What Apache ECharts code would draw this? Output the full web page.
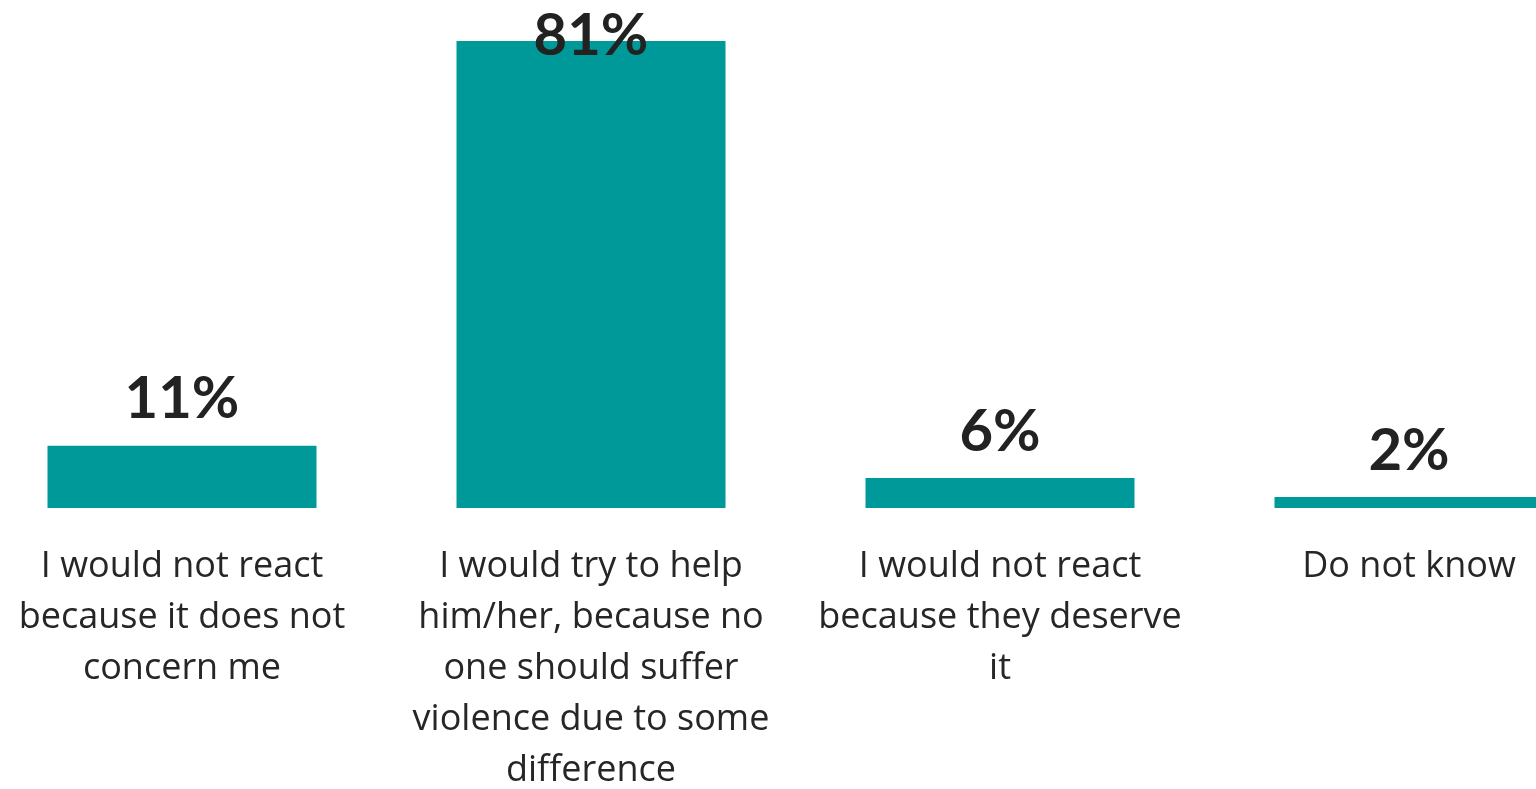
<!DOCTYPE html>
<html>
<head>
<meta charset="utf-8">
<script src="https://cdn.jsdelivr.net/npm/echarts@6/dist/echarts.min.js"></script>
<style>
html,body{margin:0;padding:0;background:#fff;}
#chart{width:1536px;height:789px;}
</style>
</head>
<body>
<div id="chart"></div>
<script>
const categories = [
  "I would not react\nbecause it does not\nconcern me",
  "I would try to help\nhim/her, because no\none should suffer\nviolence due to some\ndifference",
  "I would not react\nbecause they deserve\nit",
  "Do not know"
];
const values = [10.8, 81, 5.2, 1.9];
const valueLabels = ["11%", "81%", "6%", "2%"];

const chart = echarts.init(document.getElementById('chart'), null, {renderer: 'canvas'});
const seriesData = values.map((v, i) => {
  const item = { value: v };
  if (i === 1) {
    item.label = { offset: [0, 41] };
  }
  return item;
});
chart.setOption({
  animation: false,
  backgroundColor: '#ffffff',
  grid: { left: -22.5, right: -77.5, top: 17.9, bottom: 281, containLabel: false, outerBoundsMode: 'none' },
  xAxis: {
    type: 'category',
    data: categories,
    axisLine: { show: false },
    axisTick: { show: false },
    axisLabel: {
      interval: 0,
      margin: 33,
      fontFamily: 'Open Sans',
      fontSize: 36,
      lineHeight: 51,
      color: '#262626',
      align: 'center'
    }
  },
  yAxis: {
    type: 'value',
    min: 0,
    max: 85,
    show: false,
    splitLine: { show: false }
  },
  series: [{
    type: 'bar',
    data: seriesData,
    barWidth: 269,
    itemStyle: { color: '#009999' },
    label: {
      show: true,
      position: 'top',
      distance: 16,
      fontFamily: 'Lato',
      fontWeight: 'bold',
      fontSize: 58,
      lineHeight: 60,
      color: '#222222',
      formatter: p => valueLabels[p.dataIndex]
    }
  }]
});
</script>
</body>
</html>
